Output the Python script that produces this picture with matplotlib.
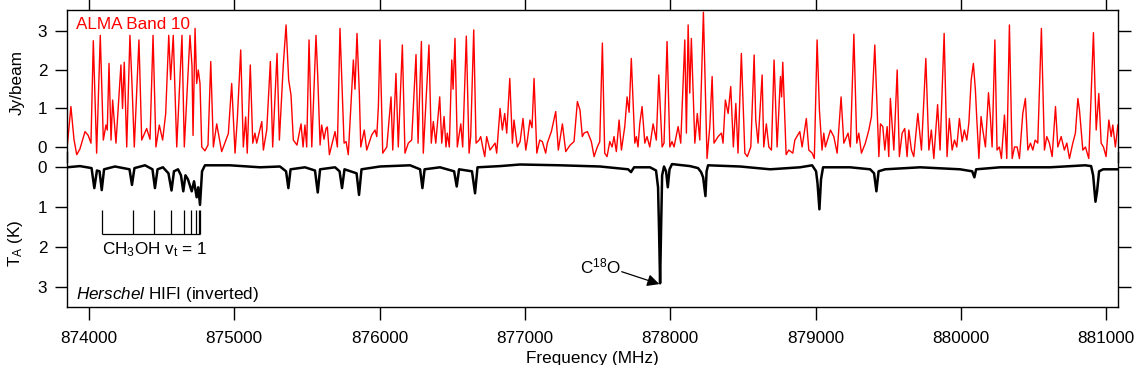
import matplotlib
matplotlib.use("Agg")
import matplotlib.pyplot as plt

plt.rcParams['font.family'] = ['Liberation Sans', 'DejaVu Sans']
plt.rcParams['mathtext.fontset'] = 'custom'
plt.rcParams['mathtext.rm'] = 'Liberation Sans'
plt.rcParams['mathtext.it'] = 'Liberation Sans:italic'

# ---------------- data ----------------
# ALMA Band 10 spectrum: frequency (MHz) / flux (Jy/beam), peaks and troughs
red_freq = [873850, 873877, 873898, 873917, 873939, 873974, 873996, 874015, 874031, 874054,
            874079, 874100, 874118, 874127, 874139, 874153, 874164, 874187, 874221, 874232,
            874244, 874261, 874283, 874297, 874313, 874345, 874364, 874398, 874421, 874442,
            874462, 874485, 874508, 874529, 874550, 874563, 874581, 874605, 874641, 874657,
            874696, 874710, 874717, 874731, 874742, 874753, 874765, 874777, 874799, 874820,
            874839, 874857, 874880, 874914, 874960, 874983, 875006, 875022, 875045, 875063,
            875079, 875090, 875111, 875128, 875143, 875155, 875190, 875201, 875224, 875249,
            875265, 875295, 875311, 875338, 875357, 875375, 875391, 875407, 875432, 875460,
            875474, 875487, 875499, 875515, 875534, 875563, 875575, 875591, 875602, 875618,
            875632, 875641, 875655, 875694, 875710, 875728, 875756, 875770, 875785, 875820,
            875831, 875845, 875861, 875871, 875895, 875912, 875946, 875969, 875981, 875992,
            876003, 876022, 876050, 876079, 876091, 876113, 876129, 876157, 876175, 876198,
            876221, 876251, 876265, 876288, 876301, 876322, 876340, 876356, 876370, 876387,
            876414, 876428, 876444, 876457, 876466, 876480, 876497, 876506, 876519, 876535,
            876559, 876572, 876597, 876616, 876627, 876648, 876664, 876685, 876696, 876714,
            876724, 876737, 876760, 876795, 876806, 876829, 876845, 876861, 876875, 876896,
            876914, 876925, 876948, 876967, 876987, 877006, 877017, 877035, 877049, 877063,
            877082, 877102, 877120, 877143, 877154, 877182, 877212, 877230, 877258, 877281,
            877311, 877338, 877361, 877379, 877395, 877407, 877430, 877457, 877476, 877498,
            877515, 877533, 877549, 877565, 877584, 877600, 877613, 877629, 877648, 877664,
            877687, 877703, 877717, 877732, 877756, 877767, 877778, 877790, 877806, 877825,
            877840, 877859, 877882, 877904, 877921, 877944, 877957, 877978, 877997, 878012,
            878026, 878054, 878072, 878100, 878111, 878123, 878134, 878145, 878169, 878186,
            878203, 878228, 878253, 878272, 878288, 878301, 878329, 878352, 878363, 878379,
            878398, 878416, 878434, 878451, 878466, 878489, 878513, 878530, 878554, 878577,
            878588, 878604, 878632, 878643, 878661, 878678, 878696, 878714, 878735, 878758,
            878766, 878774, 878797, 878815, 878843, 878857, 878891, 878907, 878936, 878953,
            878976, 878991, 879010, 879026, 879044, 879056, 879067, 879102, 879125, 879148,
            879175, 879194, 879223, 879239, 879263, 879283, 879297, 879315, 879342, 879366,
            879384, 879407, 879435, 879446, 879462, 879476, 879492, 879503, 879514, 879538,
            879561, 879576, 879595, 879613, 879629, 879641, 879659, 879675, 879703, 879728,
            879758, 879779, 879796, 879813, 879839, 879856, 879884, 879904, 879920, 879939,
            879955, 879971, 879989, 880008, 880023, 880040, 880054, 880070, 880085, 880099,
            880109, 880123, 880138, 880150, 880168, 880189, 880202, 880214, 880233, 880248,
            880264, 880278, 880299, 880315, 880333, 880352, 880368, 880386, 880402, 880425,
            880443, 880460, 880478, 880494, 880510, 880528, 880553, 880574, 880590, 880608,
            880627, 880650, 880666, 880689, 880711, 880728, 880746, 880769, 880787, 880804,
            880815, 880838, 880856, 880879, 880911, 880930, 880948, 880964, 880980, 880998,
            881017, 881033, 881044, 881062, 881079]
red_flux = [-0.05, 1.05, 0.2, -0.2, -0.05, 0.4, 0.3, 0.1, 2.76, -0.16,
            2.9, 0.18, 0.57, 0.44, 2.17, 0.18, 1.22, 0.1, 2.13, 1.0,
            2.2, 0.0, 2.9, 1.65, 0.0, 2.78, 0.18, 0.48, 0.2, 2.9,
            0.0, 0.57, 0.18, 0.87, 2.9, 1.75, 2.9, 0.0, 2.9, 0.0,
            2.9, 2.1, 0.3, 3.08, 1.65, 2.0, 1.65, 0.0, -0.1, 0.05,
            2.22, 0.0, 0.6, -0.12, 0.35, 1.65, -0.16, 0.75, 2.52, 0.0,
            0.78, -0.16, 2.13, 0.1, 0.36, 0.1, 0.66, -0.08, 0.44, 2.22,
            0.0, 2.43, 0.18, 2.13, 3.17, 1.74, 1.35, 0.18, 0.05, 0.6,
            0.0, 0.57, 0.0, 2.78, 0.0, 2.9, 1.83, 0.05, 0.57, 0.2,
            0.48, 0.52, -0.2, 0.4, 0.0, 3.08, 0.1, 0.14, -0.2, 2.26,
            1.5, 2.95, 1.4, 0.0, 0.44, -0.08, 0.31, 0.44, 0.27, 1.05,
            2.78, -0.16, 0.0, 1.3, -0.08, 1.91, 0.0, 2.65, -0.16, 0.1,
            0.18, 2.4, 0.1, 2.74, -0.16, 1.35, 2.65, 0.1, 0.66, 0.1,
            1.3, 0.1, 0.79, 0.0, 0.36, 0.0, 2.26, 1.5, 2.82, 0.0,
            0.6, 0.0, 2.88, -0.16, 0.27, 3.04, 0.1, 0.18, 0.27, -0.08,
            -0.25, 0.27, -0.08, 0.1, -0.16, 1.0, 0.44, 0.87, 0.36, 1.78,
            0.1, 0.7, 0.0, 0.14, 0.74, -0.08, 0.18, 0.7, 0.5, 1.78,
            -0.16, 0.18, 0.14, -0.16, 0.1, 0.4, 0.92, -0.08, 0.6, -0.12,
            0.05, 0.14, 1.18, 0.96, 0.27, 0.36, 0.4, 0.14, -0.25, 0.0,
            0.14, 2.7, -0.16, -0.25, 0.14, 0.0, 0.27, -0.12, 0.7, -0.08,
            0.53, 1.3, 0.9, 2.3, 0.1, 0.27, 0.0, 0.6, 1.05, 0.1,
            0.27, 0.0, 0.6, 0.18, 1.87, 0.0, 0.1, 2.74, 0.0, 0.14,
            0.0, 0.53, 0.1, 2.78, 0.36, 3.17, 1.4, 2.82, 0.1, 0.87,
            0.18, 3.5, -0.3, 0.53, 1.83, 0.1, 0.27, 0.36, 0.1, 1.22,
            0.87, 1.57, 0.0, 1.13, -0.16, 2.43, -0.16, -0.25, 0.0, 2.39,
            0.7, 0.1, 1.87, 0.0, 0.6, 0.0, -0.08, 2.26, 0.0, 1.83,
            1.3, 2.2, -0.2, -0.08, -0.16, 0.18, 0.4, 0.0, 0.74, -0.08,
            -0.16, -0.3, 2.78, 0.96, -0.08, 0.36, 0.0, 0.44, 0.27, -0.16,
            1.3, 0.1, 0.36, 0.0, 2.93, 0.1, 0.36, -0.16, 0.1, 0.44,
            0.79, 2.65, -0.25, 0.6, 0.53, -0.08, 0.53, -0.25, 1.26, -0.08,
            2.0, -0.25, 0.36, 0.48, -0.25, 0.44, -0.08, -0.25, 0.87, -0.08,
            2.3, -0.08, 0.44, -0.3, 1.1, -0.08, 2.95, -0.25, 0.74, -0.08,
            0.18, 0.0, 0.74, 0.14, 0.44, 0.18, 0.62, 1.74, 2.17, 1.48,
            0.7, -0.3, 0.79, 0.44, 0.0, 1.41, 0.79, 0.0, 2.78, -0.08,
            0.0, -0.3, 0.83, -0.3, 3.17, -0.3, 0.0, 0.0, -0.3, 0.87,
            1.26, -0.08, 0.1, -0.08, 0.18, 0.1, 3.08, -0.08, 0.27, 0.1,
            -0.25, 1.05, 0.0, 0.27, -0.08, 0.1, -0.3, 0.1, 0.36, 1.26,
            0.96, -0.08, 0.0, -0.3, 2.97, 0.44, 1.39, 0.1, 0.0, -0.25,
            0.7, 0.27, 0.57, 0.0, 0.57]

# Herschel HIFI spectrum (inverted): frequency (MHz) / T_A (K)
hifi_freq = [873850, 873939, 874019, 874038, 874056, 874074, 874089, 874105, 874180, 874280,
             874297, 874314, 874387, 874438, 874455, 874473, 874510, 874548, 874569, 874586,
             874614, 874634, 874650, 874665, 874682, 874708, 874724, 874742, 874753, 874765,
             874779, 874799, 874971, 875178, 875315, 875357, 875373, 875388, 875487, 875556,
             875575, 875591, 875694, 875725, 875742, 875759, 875842, 875859, 875876, 876003,
             876210, 876279, 876295, 876310, 876416, 876513, 876531, 876547, 876636, 876657,
             876674, 876829, 876967, 877242, 877517, 877710, 877730, 877751, 877861, 877902,
             877916, 877923, 877930, 877937, 877944, 877957, 877971, 877983, 877995, 878012,
             878136, 878191, 878212, 878226, 878242, 878250, 878260, 878480, 878687, 878893,
             878976, 879003, 879013, 879026, 879037, 879051, 879237, 879375, 879402, 879418,
             879433, 879478, 879719, 879994, 880077, 880092, 880104, 880269, 880613, 880854,
             880895, 880909, 880925, 880936, 880950, 880978, 881081]
hifi_ta = [0.0, -0.03, 0.02, 0.52, 0.08, 0.1, 0.57, 0.05, -0.02, 0.05,
           0.44, 0.02, -0.05, 0.05, 0.52, 0.05, 0.0, 0.15, 0.58, 0.1,
           0.05, 0.2, 0.6, 0.2, 0.3, 0.6, 0.35, 0.75, 0.5, 0.94,
           0.1, -0.05, -0.05, 0.0, -0.02, 0.1, 0.52, 0.05, 0.0, 0.08,
           0.63, 0.05, 0.0, 0.1, 0.52, 0.05, 0.15, 0.69, 0.05, -0.02,
           -0.05, 0.05, 0.52, 0.05, 0.0, 0.1, 0.48, 0.05, 0.1, 0.65,
           0.0, -0.03, -0.07, -0.05, -0.02, 0.05, 0.12, 0.0, 0.0, 0.08,
           0.5, 1.6, 2.9, 1.5, 0.2, -0.02, 0.1, 0.5, 0.05, -0.08,
           -0.03, 0.02, 0.12, 0.25, 0.72, 0.1, -0.05, -0.02, 0.05, 0.0,
           -0.05, 0.1, 0.4, 1.05, 0.3, 0.0, 0.0, 0.05, 0.15, 0.6,
           0.1, 0.05, 0.0, 0.05, 0.1, 0.25, 0.05, 0.0, 0.0, -0.05,
           -0.03, 0.2, 0.86, 0.6, 0.1, 0.05, 0.05]

# CH3OH vt=1 line positions (MHz)
ch3oh_lines = [874093, 874302, 874451, 874568, 874655, 874705, 874738, 874756, 874767]
c18o_freq = 877925

x_ticks = [874000, 875000, 876000, 877000, 878000, 879000, 880000, 881000]
top_yticks = [0, 1, 2, 3]
bot_yticks = [0, 1, 2, 3]

# ---------------- figure ----------------
W, H = 1146, 365
fig = plt.figure(figsize=(W / 100, H / 100), dpi=100)

left = 66.7 / W
width = (1118 - 66.7) / W
ax_b = fig.add_axes([left, 1 - 307.3 / H, width, (307.3 - 152) / H])
ax_t = fig.add_axes([left, 1 - 162 / H, width, (162 - 10) / H])
ax_t.patch.set_alpha(0)

xlim = (873848, 881080)
FS = 12.3

# bottom (HIFI)
ax_b.plot(hifi_freq, hifi_ta, color='black', lw=1.8)
ax_b.set_xlim(*xlim)
ax_b.set_ylim(3.5, -0.3825)
ax_b.set_xticks(x_ticks)
ax_b.set_xticklabels([str(v) for v in x_ticks])
ax_b.set_yticks(bot_yticks)
ax_b.spines['top'].set_visible(False)
ax_b.tick_params(axis='both', direction='out', length=9, width=1, labelsize=FS,
                 right=True, top=False, pad=5)
ax_b.tick_params(axis='x', pad=8)

# top (ALMA)
ax_t.plot(red_freq, red_flux, color='#ff0000', lw=1.0)
ax_t.set_xlim(*xlim)
ax_t.set_ylim(-0.39, 3.558)
ax_t.set_xticks(x_ticks)
ax_t.set_yticks(top_yticks)
ax_t.spines['bottom'].set_visible(False)
ax_t.tick_params(axis='both', direction='out', length=9, width=1, labelsize=FS,
                 right=True, top=True, bottom=False, labelbottom=False, pad=5)

for ax in (ax_t, ax_b):
    for s in ax.spines.values():
        s.set_linewidth(1.0)

# labels
ax_t.set_ylabel('Jy/beam', fontsize=FS)
ax_t.yaxis.set_label_coords(-0.0395, 0.52)
ax_b.set_ylabel(r'T$_\mathregular{A}$ (K)', fontsize=FS)
ax_b.yaxis.set_label_coords(-0.0395, 0.414)
fig.text(592 / W, 1 - 358 / H, 'Frequency (MHz)', ha='center', va='center', fontsize=FS)

# annotations
ax_t.text(873912, 3.19, 'ALMA Band 10', color='#ff0000', fontsize=FS, ha='left', va='center')
ax_b.text(873912, 3.18, r'$\mathit{Herschel}$ HIFI (inverted)', fontsize=FS, ha='left', va='center')

ax_b.vlines(ch3oh_lines, 1.07, 1.67, color='black', lw=0.9)
ax_b.hlines(1.67, ch3oh_lines[0], ch3oh_lines[-1], color='black', lw=0.9)
ax_b.text(ch3oh_lines[0], 2.07, r'CH$_\mathregular{3}$OH v$_\mathregular{t}$ = 1',
          fontsize=FS, ha='left', va='center')

ax_b.text(877660, 2.47, r'C$^\mathregular{18}$O', fontsize=FS, ha='right', va='center')
ax_b.annotate('', xy=(c18o_freq, 2.92), xytext=(877666, 2.61),
              arrowprops=dict(arrowstyle='-|>', color='black', lw=0.9,
                              shrinkA=0, shrinkB=0, mutation_scale=18))

fig.savefig('out.png', dpi=100)
